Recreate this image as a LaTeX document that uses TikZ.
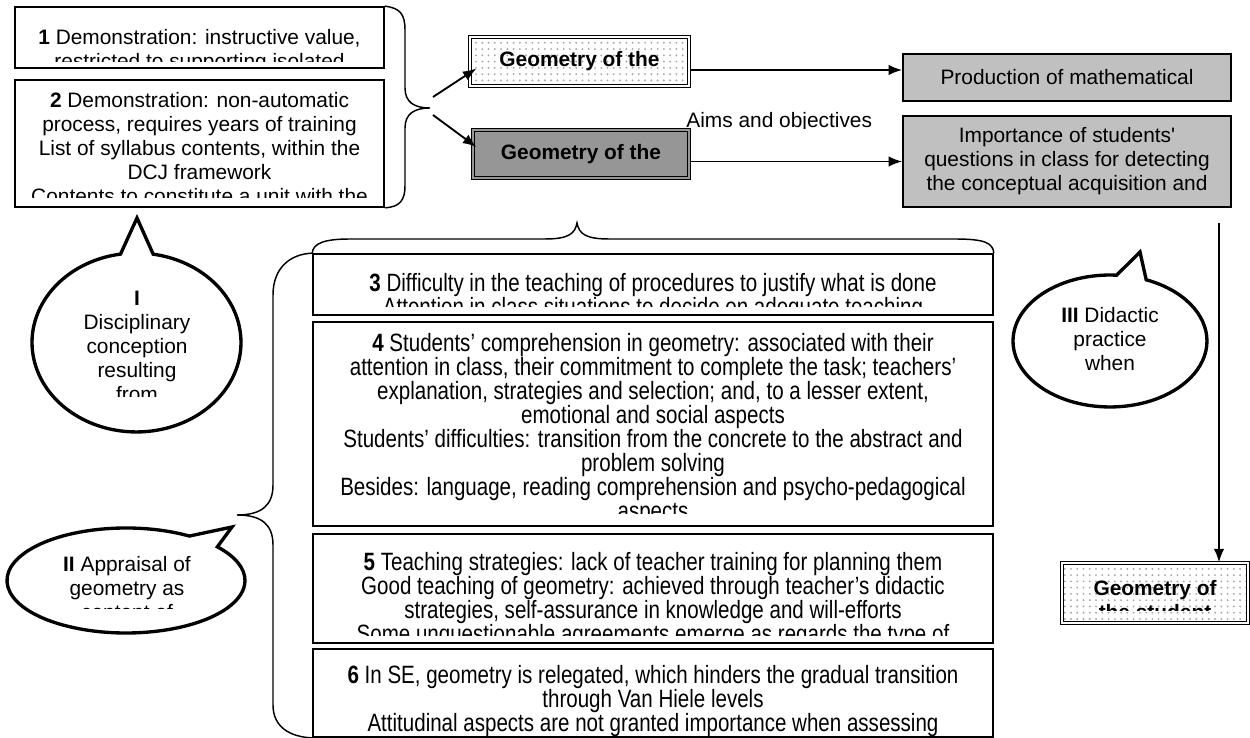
\documentclass[tikz,border=0pt]{standalone}
\usepackage{fontspec}
\setmainfont{Liberation Sans}
\newfontfamily\narrowfont[FakeStretch=0.82, Ligatures=TeX]{Liberation Sans}
\usepackage{tikz}
\usetikzlibrary{shapes,arrows,arrows.meta,patterns,calc}

\definecolor{lightbox}{RGB}{192,192,192}
\definecolor{darkbox}{RGB}{150,150,150}

% text that runs past the lower edge of its box is cut off there
\newcommand{\cuttext}[6]{% name, style, x, top y, cut y, text
	\begin{scope}
		\clip (#3-420,#4-20) rectangle (#3+420,#5);
		\node[#2, anchor=north] (#1) at (#3,#4) {#6};
	\end{scope}}

\begin{document}
\begin{tikzpicture}[x=0.479pt, y=-0.479pt]
		% Define the styles
		\tikzstyle{txt}=[font=\fontsize{10}{11.5}\selectfont, align=center, inner sep=0pt]
		\tikzstyle{btxt}=[txt, font=\bfseries\fontsize{10}{11.5}\selectfont]
		\tikzstyle{ntxt}=[font=\narrowfont\fontsize{12}{11.5}\selectfont, align=center, inner sep=0pt]
		\tikzstyle{plainbox}=[rectangle, draw=black, line width=0.8pt, fill=white]
		\tikzstyle{greybox}=[rectangle, draw=black, line width=0.8pt, fill=lightbox, txt]
		\tikzstyle{geobox}=[rectangle, draw=black, line width=0.55pt, double=white, double distance=0.8pt, btxt]
		\tikzstyle{dotted box}=[geobox, pattern=dots, pattern color=gray!70]
		\tikzstyle{bubble}=[ellipse callout, draw=black, line width=1.6pt, fill=white, callout pointer arc=18]
		\tikzstyle{brace}=[line width=0.7pt]
		\tikzstyle{link}=[line width=0.9pt, -{Latex[length=6.5pt,width=5pt]}]

		\useasboundingbox (0,0) rectangle (1250,738);

		% Define nodes
		\node[plainbox, minimum width=176.8pt, minimum height=29.2pt] (demo1) at (199.5,37.5) {};
		\node[plainbox, minimum width=176.8pt, minimum height=60.8pt] (demo2) at (199.5,143.5) {};
		\node[dotted box, minimum width=104.9pt, minimum height=23.5pt] (geoA) at (579.5,61.5) {Geometry of the};
		\node[geobox, fill=darkbox, double=darkbox, minimum width=103.5pt, minimum height=23pt] (geoB) at (581,154) {Geometry of the};
		\node[greybox, minimum width=157.1pt, minimum height=22.5pt] (prod) at (1067,77.5) {Production of mathematical};
		\node[greybox, minimum width=157.1pt, minimum height=43.6pt] (imp) at (1067,161.5)
			{Importance of students\textquotesingle\\questions in class for detecting\\the conceptual acquisition and};
		\node[plainbox, minimum width=325.7pt, minimum height=29.2pt] (diff3) at (653,284.5) {};
		\node[plainbox, minimum width=325.7pt, minimum height=97.7pt] (diff4) at (653,424) {};
		\node[plainbox, minimum width=325.7pt, minimum height=52.2pt] (diff5) at (653,588.5) {};
		\node[plainbox, minimum width=325.7pt, minimum height=42.2pt] (diff6) at (653,693) {};
		\node[dotted box, minimum width=89.1pt, minimum height=28.7pt] (geoS) at (1155,593) {};

		\node[bubble, minimum width=100.1pt, minimum height=85.7pt, callout absolute pointer={(137,218)}] (discip) at (136.5,342.5) {};
		\node[bubble, minimum width=114pt, minimum height=50.3pt, callout absolute pointer={(232,527)}] (apprais) at (126,580.5) {};
		\node[bubble, minimum width=92.9pt, minimum height=63.2pt, callout absolute pointer={(1140,252)}] (didact) at (1110,341) {};

		% Define texts
		\cuttext{demo1Txt}{txt}{199.5}{29}{62}{\textbf{1} Demonstration: instructive value,\\restricted to supporting isolated}
		\cuttext{demo2Txt}{txt}{199.5}{92}{198}{\textbf{2} Demonstration: non-automatic\\process, requires years of training\\List of syllabus contents, within the\\DCJ framework\\Contents to constitute a unit with the}
		\cuttext{diff3Txt}{ntxt}{653}{273}{307}{\textbf{3} Difficulty in the teaching of procedures to justify what is done\\Attention in class situations to decide on adequate teaching}
		\cuttext{diff4Txt}{ntxt}{653}{333}{514}{\textbf{4} Students’ comprehension in geometry: associated with their\\attention in class, their commitment to complete the task; teachers’\\explanation, strategies and selection; and, to a lesser extent,\\emotional and social aspects\\Students’ difficulties: transition from the concrete to the abstract and\\problem solving\\Besides: language, reading comprehension and psycho-pedagogical\\aspects}
		\cuttext{diff5Txt}{ntxt}{653}{552}{636}{\textbf{5} Teaching strategies: lack of teacher training for planning them\\Good teaching of geometry: achieved through teacher’s didactic\\strategies, self-assurance in knowledge and will-efforts\\Some unquestionable agreements emerge as regards the type of}
		\cuttext{diff6Txt}{ntxt}{653}{665}{736}{\textbf{6} In SE, geometry is relegated, which hinders the gradual transition\\through Van Hiele levels\\Attitudinal aspects are not granted importance when assessing}
		\cuttext{geoSTxt}{btxt}{1155}{580}{611}{Geometry of\\the student}
		\cuttext{discipTxt}{txt}{137}{291}{397}{\textbf{I}\\Disciplinary\\conception\\resulting\\from}
		\cuttext{appraisTxt}{txt}{127}{556}{609}{\textbf{II} Appraisal of\\geometry as\\content of}
		\node[txt, anchor=north] (didactTxt) at (1110,307) {\textbf{III} Didactic\\practice\\when};
		\begin{scope}
			\clip (680,100) rectangle (880,128.5);
			\node[txt, anchor=base west] (aims) at (686,128) {Aims and objectives};
		\end{scope}

		% Define braces
		\draw[brace] (demo1.north east) .. controls (400,8) and (405,14) .. (405,30) -- (405,88)
			.. controls (405,102) and (414,108) .. (430,108)
			.. controls (414,108) and (405,114) .. (405,128) -- (405,186)
			.. controls (405,200) and (400,207) .. (demo2.south east);
		\coordinate (tipA) at (432,108);
		\draw[brace] (diff3.north west) .. controls (313,243) and (325,239) .. (350,239) -- (545,239)
			.. controls (568,239) and (575,234) .. (577,223)
			.. controls (579,234) and (586,239) .. (609,239) -- (955,239)
			.. controls (985,239) and (993,243) .. (diff3.north east);
		\draw[brace] (diff3.north west) .. controls (290,254) and (273,268) .. (273,295) -- (273,485)
			.. controls (273,505) and (262,515) .. (237,515)
			.. controls (262,515) and (273,525) .. (273,545) -- (273,705)
			.. controls (273,727) and (290,737) .. (diff6.south west);

		% Define edges
		\draw[link] ($(tipA)+(1,-11)$) -- ($(geoA.west)+(7,7)$);
		\draw[link] ($(tipA)+(1,7)$) -- ($(geoB.west)+(4,-7)$);
		\draw[link] ($(geoA.east)+(0,8.5)$) -- ($(prod.west)+(0,-7.5)$);
		\draw[link] (geoB.east |- imp.west) -- (imp.west);
		\coordinate (drop) at (1219,223);
		\draw[link] (drop) -- (drop |- geoS.north);
	\end{tikzpicture}
\end{document}
